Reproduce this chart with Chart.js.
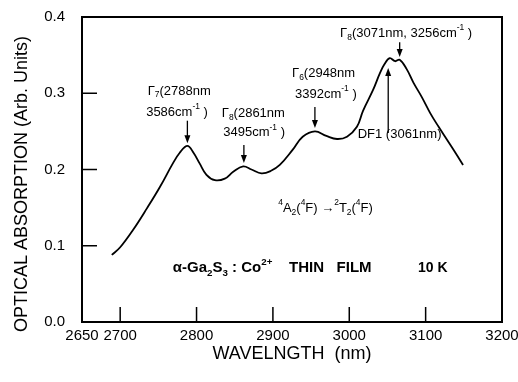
<!DOCTYPE html>
<html>
<head>
<meta charset="utf-8">
<script src="https://cdn.jsdelivr.net/npm/chart.js@4.4.1/dist/chart.umd.min.js"></script>
<style>
  html, body { margin: 0; padding: 0; background: #fff; }
  #wrap { width: 518px; height: 382px; position: relative; }
</style>
</head>
<body>
<div id="wrap"><canvas id="chart"></canvas></div>
<script>
// Absorption spectrum, wavelength in nm
const wavelength = [2689, 2700, 2717, 2735, 2752, 2769, 2778, 2788, 2796, 2804, 2813, 2824, 2837,
    2848, 2861, 2872, 2885, 2897, 2909, 2926, 2939, 2955, 2970, 2984, 2997, 3010, 3018, 3031,
    3040, 3046, 3053, 3060, 3066, 3075, 3084, 3095, 3106, 3117, 3128, 3139, 3149];
const absorption = [0.088, 0.098, 0.121, 0.149, 0.177, 0.208, 0.222, 0.231, 0.222, 0.208, 0.193, 0.186, 0.188,
    0.197, 0.204, 0.200, 0.195, 0.198, 0.206, 0.226, 0.243, 0.250, 0.244, 0.240, 0.243, 0.256, 0.277, 0.304,
    0.326, 0.338, 0.346, 0.342, 0.344, 0.332, 0.314, 0.295, 0.274, 0.256, 0.239, 0.222, 0.206];

const xTicks = [2650, 2700, 2800, 2900, 3000, 3100, 3200];
const yTicks = [0.0, 0.1, 0.2, 0.3, 0.4];

const FONT = '"Liberation Sans", Arial, "DejaVu Sans", sans-serif';

// Labels on the plot, placed in data coordinates: [text, 'sub' | 'sup' | null]
const notes = [
    { x: 2736, y: 0.303, parts: [['Γ'], ['7', 'sub'], ['(2788nm']] },
    { x: 2734, y: 0.2755, parts: [['3586cm'], ['-1', 'sup'], [' )']] },
    { x: 2833, y: 0.274, parts: [['Γ'], ['8', 'sub'], ['(2861nm']] },
    { x: 2835, y: 0.248, parts: [['3495cm'], ['-1', 'sup'], [' )']] },
    { x: 2925, y: 0.3265, parts: [['Γ'], ['6', 'sub'], ['(2948nm']] },
    { x: 2929, y: 0.299, parts: [['3392cm'], ['-1', 'sup'], [' )']] },
    { x: 2988, y: 0.379, parts: [['Γ'], ['8', 'sub'], ['(3071nm, 3256cm'], ['-1', 'sup'], [' )']] },
    { x: 3011, y: 0.2465, parts: [['DF1 (3061nm)']] },
    { x: 2907, y: 0.1495, parts: [['4', 'sup'], ['A'], ['2', 'sub'], ['('], ['4', 'sup'], ['F) →'], ['2', 'sup'], ['T'], ['2', 'sub'], ['('], ['4', 'sup'], ['F)']] },
    { x: 2769, y: 0.0708, bold: true, size: 15, parts: [['α-Ga'], ['2', 'sub'], ['S'], ['3', 'sub'], [' : Co'], ['2+', 'sup'], ['    THIN   FILM']] },
    { x: 3090, y: 0.0708, bold: true, size: 14, parts: [['10 K']] }
];

// Arrows: x, tail y, head y (data units)
const arrows = [
    { x: 2788, from: 0.2640, to: 0.2345 },
    { x: 2862, from: 0.2320, to: 0.2085 },
    { x: 2955, from: 0.2820, to: 0.2545 },
    { x: 3066, from: 0.3670, to: 0.3475 },
    { x: 3051, from: 0.2480, to: 0.3330 }
];

function drawRich(ctx, parts, x, y, size, bold) {
    let cx = x;
    for (const [t, mode] of parts) {
        const s = mode ? size * 0.65 : size;
        ctx.font = (bold ? 'bold ' : '') + s + 'px ' + FONT;
        const dy = mode === 'sub' ? size * 0.32 : mode === 'sup' ? -size * 0.38 : 0;
        ctx.fillText(t, cx, y + dy);
        cx += ctx.measureText(t).width;
    }
}

const framePlugin = {
    id: 'frame',
    afterDraw(chart) {
        const { ctx, chartArea: a, scales: { x, y } } = chart;
        ctx.save();
        ctx.strokeStyle = '#000';
        ctx.fillStyle = '#000';

        // box round the plot
        ctx.lineWidth = 2;
        ctx.strokeRect(a.left, a.top, a.right - a.left, a.bottom - a.top);

        // inward tick marks
        ctx.lineWidth = 1.5;
        ctx.beginPath();
        xTicks.slice(1, -1).forEach(v => {
            const px = x.getPixelForValue(v);
            ctx.moveTo(px, a.bottom);
            ctx.lineTo(px, a.bottom - 15);
        });
        yTicks.slice(1, -1).forEach(v => {
            const py = y.getPixelForValue(v);
            ctx.moveTo(a.left, py);
            ctx.lineTo(a.left + 15, py);
        });
        ctx.stroke();

        // arrows
        arrows.forEach(ar => {
            const px = x.getPixelForValue(ar.x);
            const y0 = y.getPixelForValue(ar.from);
            const y1 = y.getPixelForValue(ar.to);
            const dir = y1 > y0 ? 1 : -1;
            ctx.lineWidth = 1.3;
            ctx.beginPath();
            ctx.moveTo(px, y0);
            ctx.lineTo(px, y1 - dir * 6);
            ctx.stroke();
            ctx.beginPath();
            ctx.moveTo(px, y1);
            ctx.lineTo(px - 3, y1 - dir * 8);
            ctx.lineTo(px + 3, y1 - dir * 8);
            ctx.closePath();
            ctx.fill();
        });

        // text on the plot
        ctx.textAlign = 'left';
        ctx.textBaseline = 'middle';
        notes.forEach(n => {
            drawRich(ctx, n.parts, x.getPixelForValue(n.x), y.getPixelForValue(n.y), n.size || 13, n.bold);
        });

        // axis titles
        ctx.textAlign = 'center';
        ctx.font = '18px ' + FONT;
        ctx.fillText('WAVELNGTH  (nm)', 292, 354);
        ctx.save();
        ctx.translate(22, 184);
        ctx.rotate(-Math.PI / 2);
        ctx.fillText('OPTICAL ABSORPTION (Arb. Units)', 0, 0, 298);
        ctx.restore();

        ctx.restore();
    }
};

new Chart(document.getElementById('chart'), {
    type: 'line',
    data: {
        datasets: [{
            data: wavelength.map((w, i) => ({ x: w, y: absorption[i] })),
            borderColor: '#000',
            borderWidth: 1.8,
            pointRadius: 0,
            tension: 0.4,
            fill: false
        }]
    },
    options: {
        responsive: true,
        maintainAspectRatio: false,
        animation: false,
        layout: { padding: { left: 0, right: 16, top: 17, bottom: 0 } },
        plugins: {
            legend: { display: false },
            tooltip: { enabled: false }
        },
        scales: {
            x: {
                type: 'linear',
                min: 2650,
                max: 3200,
                afterBuildTicks: s => { s.ticks = xTicks.map(v => ({ value: v })); },
                afterFit: s => { s.height = 60; s.paddingLeft = 0; s.paddingRight = 0; },
                grid: { display: false, drawTicks: false },
                border: { display: false },
                ticks: {
                    autoSkip: false,
                    maxRotation: 0,
                    padding: 5,
                    color: '#000',
                    font: { family: FONT, size: 15 },
                    callback: v => String(v)
                }
            },
            y: {
                min: 0,
                max: 0.4,
                afterBuildTicks: s => { s.ticks = yTicks.map(v => ({ value: v })); },
                afterFit: s => { s.width = 82; s.paddingTop = 0; s.paddingBottom = 0; },
                grid: { display: false, drawTicks: false },
                border: { display: false },
                ticks: {
                    padding: 17,
                    color: '#000',
                    font: { family: FONT, size: 15 },
                    callback: v => v.toFixed(1)
                }
            }
        }
    },
    plugins: [framePlugin]
});
</script>
</body>
</html>
